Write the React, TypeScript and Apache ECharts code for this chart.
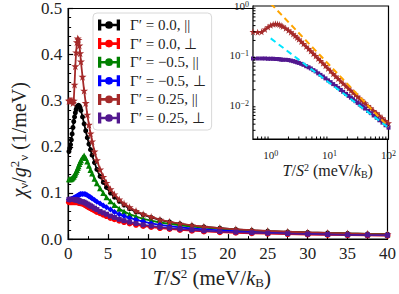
import React, { useEffect, useRef } from "react";
import * as echarts from "echarts";

// Temperature grid T/S^2 (meV/kB)
const TEMPS = [
  0.1, 0.2, 0.3, 0.4, 0.5, 0.6, 0.7, 0.8, 0.9, 1.0, 1.1, 1.2, 1.3, 1.4, 1.5, 1.6, 1.8, 2.0, 2.2, 2.4,
  2.6, 2.8, 3.0, 3.3, 3.6, 4.0, 4.4, 4.8, 5.3, 5.8, 6.4, 7.0, 7.7, 8.5, 9.4, 10.4, 11.5, 12.7, 14, 15.5,
  17, 19, 21, 23, 25, 27.5, 30, 32.5, 35, 37.5, 40, 45, 50, 56, 63, 70, 79, 89, 100,
];

// Γ' = 0.0, ||  (black)
const CHI_G0_PAR = [
  0.19, 0.197, 0.205, 0.215, 0.228, 0.242, 0.255, 0.265, 0.274, 0.281, 0.286, 0.289, 0.29, 0.289, 0.285, 0.279, 0.265, 0.25, 0.235, 0.22,
  0.206, 0.194, 0.182, 0.166, 0.151, 0.136, 0.123, 0.112, 0.1, 0.091, 0.082, 0.074, 0.066, 0.059, 0.053, 0.047, 0.0415, 0.037, 0.033, 0.0294,
  0.0265, 0.0235, 0.021, 0.0191, 0.0174, 0.0157, 0.0143, 0.0132, 0.0122, 0.0113, 0.0106,
];
// Γ' = 0.0, ⊥  (red)
const CHI_G0_PERP = [
  0.08, 0.08, 0.08, 0.08, 0.08, 0.08, 0.08, 0.08, 0.08, 0.08, 0.08, 0.08, 0.079, 0.079, 0.078, 0.078, 0.077, 0.075, 0.073, 0.071,
  0.069, 0.067, 0.065, 0.062, 0.059, 0.056, 0.053, 0.05, 0.046, 0.043, 0.04, 0.037, 0.034, 0.031, 0.0285, 0.0262, 0.024, 0.022, 0.02, 0.0182,
  0.0166, 0.0151, 0.0138, 0.0127, 0.0118, 0.0108, 0.01, 0.0093, 0.0087, 0.0082, 0.0077,
];
// Γ' = -0.5, ||  (green)
const CHI_GM05_PAR = [
  0.13, 0.13, 0.13, 0.131, 0.132, 0.134, 0.136, 0.139, 0.142, 0.146, 0.15, 0.154, 0.158, 0.163, 0.167, 0.171, 0.177, 0.181, 0.176, 0.168,
  0.159, 0.15, 0.142, 0.131, 0.121, 0.11, 0.1, 0.091, 0.082, 0.074, 0.066, 0.06, 0.054, 0.049, 0.044, 0.04, 0.036, 0.033, 0.03, 0.0272,
  0.0247, 0.0222, 0.0201, 0.0184, 0.0169, 0.0153, 0.014, 0.0129, 0.012, 0.0112, 0.0105,
];
// Γ' = -0.5, ⊥  (blue)
const CHI_GM05_PERP = [
  0.086, 0.086, 0.086, 0.087, 0.087, 0.088, 0.089, 0.09, 0.091, 0.092, 0.093, 0.094, 0.095, 0.096, 0.097, 0.098, 0.098, 0.098, 0.097, 0.095,
  0.093, 0.091, 0.088, 0.085, 0.081, 0.077, 0.073, 0.069, 0.064, 0.059, 0.054, 0.05, 0.046, 0.042, 0.038, 0.034, 0.031, 0.028, 0.0255, 0.023,
  0.021, 0.0189, 0.0172, 0.0158, 0.0146, 0.0133, 0.0122, 0.0113, 0.0105, 0.0098, 0.0092,
];
// Γ' = 0.25, ||  (brown)
const CHI_G025_PAR = [
  0.3, 0.3, 0.3, 0.3, 0.3, 0.295, 0.3, 0.335, 0.375, 0.405, 0.427, 0.435, 0.432, 0.42, 0.403, 0.385, 0.352, 0.322, 0.295, 0.27,
  0.248, 0.229, 0.212, 0.19, 0.171, 0.151, 0.135, 0.122, 0.108, 0.097, 0.086, 0.077, 0.069, 0.061, 0.054, 0.048, 0.042, 0.0375, 0.0335, 0.0298,
  0.0268, 0.0238, 0.0213, 0.0193, 0.0176, 0.0159, 0.0145, 0.0133, 0.0123, 0.0114, 0.0107, 0.0094, 0.0085, 0.0075, 0.0067, 0.006, 0.0053, 0.0047, 0.0042,
];
// Γ' = 0.25, ⊥  (purple)
const CHI_G025_PERP = [
  0.086, 0.086, 0.086, 0.086, 0.086, 0.086, 0.086, 0.086, 0.085, 0.085, 0.085, 0.084, 0.084, 0.083, 0.082, 0.081, 0.081, 0.08, 0.078, 0.076,
  0.074, 0.072, 0.07, 0.067, 0.064, 0.06, 0.057, 0.054, 0.05, 0.047, 0.043, 0.04, 0.037, 0.034, 0.031, 0.0285, 0.026, 0.0238, 0.0218, 0.0198,
  0.0181, 0.0164, 0.015, 0.0138, 0.0128, 0.0117, 0.0108, 0.01, 0.0093, 0.0088, 0.0083, 0.0074, 0.0067, 0.006, 0.0054, 0.0048, 0.0043, 0.0038, 0.0034,
];

// Dashed reference lines in the inset
const FIT_ORANGE_T = [1.0, 100];
const FIT_ORANGE_V = [1.12, 0.0035];
const FIT_CYAN_T = [1.0, 100];
const FIT_CYAN_V = [0.22, 0.0034];

// Inset minor tick positions (log axes)
const INSET_X_MINOR = [0.6, 0.7, 0.8, 0.9, 2, 3, 4, 5, 6, 7, 8, 9, 20, 30, 40, 50, 60, 70, 80, 90];
const INSET_Y_MINOR = [
  0.003, 0.004, 0.005, 0.006, 0.007, 0.008, 0.009, 0.02, 0.03, 0.04, 0.05, 0.06, 0.07, 0.08, 0.09,
  0.2, 0.3, 0.4, 0.5, 0.6, 0.7, 0.8, 0.9,
];

const NAMES = [
  "Γ′ = 0.0, ||",
  "Γ′ = 0.0, ⊥",
  "Γ′ = −0.5, ||",
  "Γ′ = −0.5, ⊥",
  "Γ′ = 0.25, ||",
  "Γ′ = 0.25, ⊥",
];
const COLORS = ["#000000", "#ff0000", "#008000", "#0000ff", "#a52a2a", "#52188f"];
const STAR = "path://M50,0L61,35L98,35L68,57L79,91L50,70L21,91L32,57L2,35L39,35Z";
const SYMBOLS = ["circle", "circle", "triangle", "diamond", STAR, "rect"];
const SIZES = [5, 6, 6, 6, 8, 5];
const SERIES_VALUES = [CHI_G0_PAR, CHI_G0_PERP, CHI_GM05_PAR, CHI_GM05_PERP, CHI_G025_PAR, CHI_G025_PERP];

const FONT = "Liberation Serif";
const LEGEND_ICON =
  "path://M0,0H3V10H0Z M17,0H20V10H17Z M0,3.8H20V6.2H0Z M6.5,5A3.5,3.5 0 1,1 13.5,5A3.5,3.5 0 1,1 6.5,5Z";

const pairs = (ts: number[], vs: number[]) => vs.map((v, i) => [ts[i], v]);

const powLabel = (v: number) => {
  const e = Math.log10(v);
  if (Math.abs(e - Math.round(e)) > 1e-6) return "";
  const r = Math.round(e);
  return "10{sup|" + (r < 0 ? "−" + -r : String(r)) + "}";
};

export default function App() {
  const ref = useRef<HTMLDivElement>(null);
  useEffect(() => {
    const chart = echarts.init(ref.current!, null, { renderer: "svg" });

    const mainSeries = SERIES_VALUES.map((vals, k) => ({
      type: "line",
      name: NAMES[k],
      xAxisIndex: 0,
      yAxisIndex: 0,
      data: pairs(TEMPS, vals).filter((p) => p[0] <= 40),
      symbol: SYMBOLS[k],
      symbolSize: SIZES[k],
      showSymbol: true,
      lineStyle: { color: COLORS[k], width: 1.8 },
      itemStyle: { color: COLORS[k] },
      clip: true,
      z: 2 + k * 0.01,
    }));

    const insetData = [
      { vals: CHI_G025_PAR, k: 4 },
      { vals: CHI_G025_PERP, k: 5 },
    ].map(({ vals, k }) => ({
      type: "line",
      name: "inset-" + k,
      xAxisIndex: 1,
      yAxisIndex: 1,
      data: pairs(TEMPS, vals).filter((p) => p[0] >= 0.5),
      symbol: SYMBOLS[k],
      symbolSize: SIZES[k] - 1,
      lineStyle: { color: COLORS[k], width: 1.8 },
      itemStyle: { color: COLORS[k] },
      clip: true,
      z: 3,
    }));

    const fits = [
      { t: FIT_ORANGE_T, v: FIT_ORANGE_V, c: "#ffa500", n: "fit-orange" },
      { t: FIT_CYAN_T, v: FIT_CYAN_V, c: "#00e5ff", n: "fit-cyan" },
    ].map((f) => ({
      type: "line",
      name: f.n,
      xAxisIndex: 1,
      yAxisIndex: 1,
      data: pairs(f.t, f.v),
      showSymbol: false,
      symbol: "none",
      lineStyle: { color: f.c, width: 2, type: [6, 4] },
      clip: true,
      z: 4,
    }));

    const minorX = {
      type: "custom",
      name: "minor-x",
      xAxisIndex: 1,
      yAxisIndex: 1,
      data: INSET_X_MINOR.map((v) => [v, 0.1]),
      renderItem: (params: any, api: any) => {
        const cs = params.coordSys;
        const p = api.coord([api.value(0), 0.1]);
        const yb = cs.y + cs.height;
        return {
          type: "line",
          shape: { x1: p[0], y1: yb, x2: p[0], y2: yb - 2.5 },
          style: { stroke: "#000", lineWidth: 1 },
        };
      },
      z: 5,
      silent: true,
    };
    const minorY = {
      type: "custom",
      name: "minor-y",
      xAxisIndex: 1,
      yAxisIndex: 1,
      data: INSET_Y_MINOR.map((v) => [1, v]),
      renderItem: (params: any, api: any) => {
        const cs = params.coordSys;
        const p = api.coord([1, api.value(1)]);
        return {
          type: "line",
          shape: { x1: cs.x, y1: p[1], x2: cs.x + 2.5, y2: p[1] },
          style: { stroke: "#000", lineWidth: 1 },
        };
      },
      z: 5,
      silent: true,
    };

    const supRich = (fs: number) => ({
      sup: { fontSize: fs, fontFamily: FONT, verticalAlign: "top", lineHeight: fs, color: "#222" },
    });

    chart.setOption({
      animation: false,
      backgroundColor: "#ffffff",
      textStyle: { fontFamily: FONT },
      legend: {
        data: NAMES.map((n) => ({ name: n, icon: LEGEND_ICON })),
        orient: "vertical",
        left: 93,
        top: 13,
        itemWidth: 22,
        itemHeight: 11,
        itemGap: 2.6,
        padding: [4, 6, 4, 5],
        selectedMode: false,
        backgroundColor: "rgba(255,255,255,0.85)",
        borderColor: "#d8d8d8",
        borderWidth: 1,
        borderRadius: 4,
        textStyle: { fontFamily: FONT, fontSize: 15, color: "#222", lineHeight: 16, padding: [0, 0, 0, 5] },
        z: 10,
      },
      grid: [
        { left: 63, top: 7, right: 2, bottom: 49, show: true, borderColor: "#000", borderWidth: 1.2 },
        { left: 253, top: 6, width: 139, height: 133, show: true, borderColor: "#000", borderWidth: 1.2, backgroundColor: "#fff", z: 1 },
      ],
      xAxis: [
        {
          type: "value",
          gridIndex: 0,
          min: 0,
          max: 40,
          interval: 5,
          name: "{i|T}{r|/}{i|S}{sup|2}{r| (meV/}{i|k}{sub|B}{r|)}",
          nameLocation: "middle",
          nameGap: 19,
          nameTextStyle: {
            padding: [0, 32, 0, 0],
            rich: {
              i: { fontFamily: FONT, fontSize: 21, fontStyle: "italic", color: "#222", lineHeight: 22 },
              r: { fontFamily: FONT, fontSize: 21, color: "#222", lineHeight: 22 },
              sup: { fontFamily: FONT, fontSize: 13, color: "#222", verticalAlign: "top", lineHeight: 13 },
              sub: { fontFamily: FONT, fontSize: 13, color: "#222", verticalAlign: "bottom", lineHeight: 13 },
            },
          },
          axisLine: { show: true, lineStyle: { color: "#000", width: 1.2 } },
          axisTick: { show: true, inside: true, length: 5, lineStyle: { color: "#000", width: 1.2 } },
          minorTick: { show: true, splitNumber: 2, length: 3, lineStyle: { color: "#000", width: 1 } },
          axisLabel: { fontFamily: FONT, fontSize: 17, color: "#222", margin: 6 },
          splitLine: { show: false },
        },
        {
          type: "log",
          logBase: 10,
          gridIndex: 1,
          min: 0.5,
          max: 100,
          name: "{i|T}{r|/}{i|S}{sup|2}{r| (meV/}{i|k}{sub|B}{r|)}",
          nameLocation: "middle",
          nameGap: 23,
          nameTextStyle: {
            padding: [0, 0, 0, 14],
            rich: {
              i: { fontFamily: FONT, fontSize: 16, fontStyle: "italic", color: "#222", lineHeight: 17 },
              r: { fontFamily: FONT, fontSize: 16, color: "#222", lineHeight: 17 },
              sup: { fontFamily: FONT, fontSize: 10, color: "#222", verticalAlign: "top", lineHeight: 10 },
              sub: { fontFamily: FONT, fontSize: 10, color: "#222", verticalAlign: "bottom", lineHeight: 10 },
            },
          },
          axisLine: { show: true, lineStyle: { color: "#000", width: 1.2 } },
          axisTick: { show: true, inside: true, length: 4, lineStyle: { color: "#000", width: 1 } },
          axisLabel: {
            fontFamily: FONT,
            fontSize: 11,
            color: "#222",
            margin: 10,
            formatter: powLabel,
            rich: supRich(8),
          },
          splitLine: { show: false },
        },
      ],
      yAxis: [
        {
          type: "value",
          gridIndex: 0,
          min: 0,
          max: 0.5,
          interval: 0.1,
          name: "{i|χ}{sub|ν}{r|/}{i|g}{sup|2}{sub|ν}{r| (1/meV)}",
          nameLocation: "middle",
          nameRotate: 90,
          nameGap: 37,
          nameTextStyle: {
            padding: [0, 32, 0, 0],
            rich: {
              i: { fontFamily: FONT, fontSize: 20, fontStyle: "italic", color: "#222", lineHeight: 22 },
              r: { fontFamily: FONT, fontSize: 20, color: "#222", lineHeight: 22 },
              sup: { fontFamily: FONT, fontSize: 13, color: "#222", verticalAlign: "top", lineHeight: 13 },
              sub: { fontFamily: FONT, fontSize: 13, color: "#222", verticalAlign: "bottom", lineHeight: 13 },
            },
          },
          axisLine: { show: true, lineStyle: { color: "#000", width: 1.2 } },
          axisTick: { show: true, inside: true, length: 5, lineStyle: { color: "#000", width: 1.2 } },
          minorTick: { show: true, splitNumber: 5, length: 3, lineStyle: { color: "#000", width: 1 } },
          axisLabel: { fontFamily: FONT, fontSize: 17, color: "#222", margin: 6, formatter: (v: number) => v.toFixed(1) },
          splitLine: { show: false },
        },
        {
          type: "log",
          logBase: 10,
          gridIndex: 1,
          min: 0.002,
          max: 1,
          axisLine: { show: true, lineStyle: { color: "#000", width: 1.2 } },
          axisTick: { show: true, inside: true, length: 4, lineStyle: { color: "#000", width: 1 } },
          axisLabel: {
            fontFamily: FONT,
            fontSize: 11,
            color: "#222",
            margin: 4,
            formatter: powLabel,
            rich: supRich(8),
          },
          splitLine: { show: false },
        },
      ],
      series: [...mainSeries, ...insetData, ...fits, minorX, minorY],
    });
    return () => chart.dispose();
  }, []);
  return (
    <div
      ref={ref}
      style={{ position: "absolute", left: 0, top: 0, width: 399, height: 294 }}
    />
  );
}
